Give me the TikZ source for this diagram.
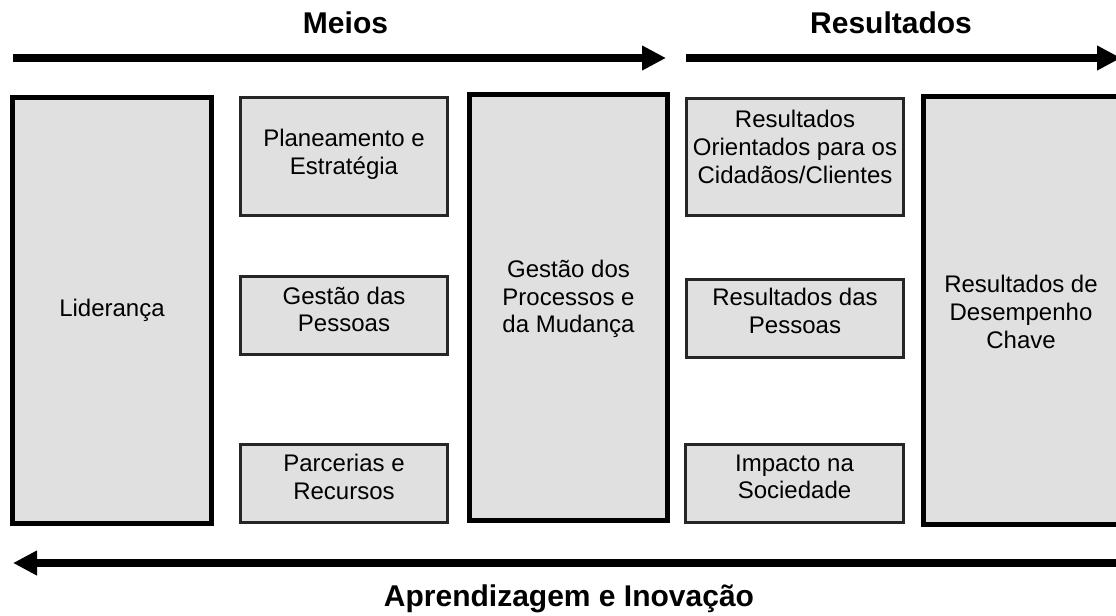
\documentclass[tikz,border=0pt]{standalone}
\usepackage{fontspec}
\setmainfont{Liberation Sans}
\usetikzlibrary{arrows.meta}
\definecolor{boxgray}{RGB}{224,224,224}
\begin{document}
\begin{tikzpicture}[x=0.75pt,y=-0.75pt,
    sz/.style 2 args={minimum width=#1*0.75pt,minimum height=#2*0.75pt},
    bigbox/.style={draw,line width=4.1pt,fill=boxgray,inner sep=0pt},
    smallbox/.style={draw=black!85,line width=1.9pt,fill=boxgray,inner sep=0pt},
    txt/.style={align=center,inner sep=0pt,font=\fontsize{18}{20.7}\selectfont},
    title/.style={anchor=base,inner sep=0pt,font=\fontsize{22.5}{26}\selectfont\bfseries},
    flow/.style={line width=6pt,-{Triangle[length=18pt,width=17.5pt]}}]
  \clip (0,0) rectangle (1116,615);
  % titles
  \node[title] (meios) at (345.5,33) {Meios};
  \node[title] (result) at (891,33) {Resultados};
  \node[title] (aprend) at (569,606) {Aprendizagem e Inovação};
  % arrows
  \coordinate (m0) at (13,58);
  \coordinate (m1) at (666,58);
  \coordinate (r0) at (686,58);
  \coordinate (r1) at (1121,58);
  \coordinate (a0) at (1130,563);
  \coordinate (a1) at (13,563);
  \draw[flow] (m0) -- (m1);
  \draw[flow] (r0) -- (r1);
  \draw[flow] (a0) -- (a1);
  % boxes
  \node[bigbox,sz={198.5}{425.5}] (lider) at (112,310.5) {};
  \node[bigbox,sz={197.5}{425.5}] (proc) at (568.5,307.5) {};
  \node[bigbox,sz={198.5}{427.5}] (desemp) at (1023,310.5) {};
  \node[smallbox,sz={207.5}{118.5}] (plan) at (344,156.5) {};
  \node[smallbox,sz={207.5}{78.5}] (pess) at (344,315.5) {};
  \node[smallbox,sz={207.5}{78.5}] (parc) at (344,483.5) {};
  \node[smallbox,sz={217.5}{117.5}] (rcid) at (795,157) {};
  \node[smallbox,sz={217.5}{78.5}] (rpes) at (795,318.5) {};
  \node[smallbox,sz={218.5}{78.5}] (impac) at (794.5,483.5) {};
  % texts
  \node[txt] (liderT) at (112,310) {Liderança};
  \node[txt] (procT) at (568.5,299) {Gestão dos\\Processos e\\da Mudança};
  \node[txt] (desempT) at (1021,312) {Resultados de\\Desempenho\\Chave};
  \node[txt] (planT) at (344,154) {Planeamento e\\Estratégia};
  \node[txt] (pessT) at (344,309.5) {Gestão das\\Pessoas};
  \node[txt] (parcT) at (344,477) {Parcerias e\\Recursos};
  \node[txt] (rcidT) at (795,147) {Resultados\\Orientados para os\\Cidadãos/Clientes};
  \node[txt] (rpesT) at (795,311) {Resultados das\\Pessoas};
  \node[txt] (impacT) at (794.5,477) {Impacto na\\Sociedade};
\end{tikzpicture}
\end{document}
